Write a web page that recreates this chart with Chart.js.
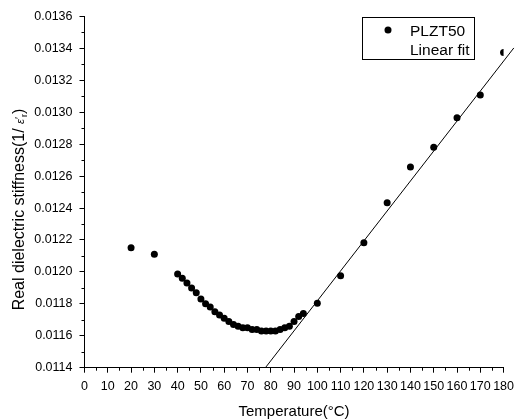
<!DOCTYPE html>
<html><head><meta charset="utf-8">
<script src="https://cdn.jsdelivr.net/npm/chart.js@4.4.1/dist/chart.umd.min.js"></script>
<style>html,body{margin:0;padding:0;background:#fff;}#wrap{width:520px;height:419px;}</style>
</head><body><div id="wrap"><canvas id="c" width="520" height="419"></canvas></div>
<script>
// ---- data ----
const temperatures = [20, 30, 40, 42, 44, 46, 48, 50, 52, 54, 56, 58, 60, 62, 64, 66, 68, 70, 72, 74, 76, 78, 80, 82, 84, 86, 88, 90, 92, 94, 100, 110, 120, 130, 140, 150, 160, 170, 180];
const stiffness = [0.012152, 0.012111, 0.011987, 0.01196, 0.01193, 0.01190, 0.01187, 0.01183, 0.01180, 0.01178, 0.01175, 0.01173, 0.01171, 0.01169, 0.01167, 0.01166, 0.01165, 0.01165, 0.01164, 0.01164, 0.01163, 0.01163, 0.01163, 0.01163, 0.01164, 0.01165, 0.01166, 0.01169, 0.01172, 0.01174, 0.011804, 0.011976, 0.012183, 0.012434, 0.012657, 0.012781, 0.012965, 0.013109, 0.013374];
const fitTemperatures = [77.7, 184.4];
const fitStiffness = [0.0114, 0.013403];
const seriesNames = ['PLZT50', 'Linear fit'];
const xTitle = 'Temperature(\u00B0C)';
const yTitleParts = ['Real dielectric stiffness(1/ ', '\u03B5', '\u2032', 'r', ')'];
const xMinorTicks = [5, 15, 25, 35, 45, 55, 65, 75, 85, 95, 105, 115, 125, 135, 145, 155, 165, 175];
const yMinorTicks = [0.0115, 0.0117, 0.0119, 0.0121, 0.0123, 0.0125, 0.0127, 0.0129, 0.0131, 0.0133, 0.0135];

const FONT = "'Liberation Sans', Arial, sans-serif";
Chart.defaults.font.family = FONT;
Chart.defaults.color = '#000';

const extras = {
  id: 'extras',
  afterDraw(chart) {
    const {ctx, scales: {x, y}, chartArea: a} = chart;
    ctx.save();
    ctx.strokeStyle = '#000';
    ctx.lineWidth = 1;
    ctx.beginPath();
    for (const v of xMinorTicks) {
      const px = Math.round(x.getPixelForValue(v)) + 0.5;
      ctx.moveTo(px, a.bottom); ctx.lineTo(px, a.bottom + 3);
    }
    for (const v of yMinorTicks) {
      const py = Math.round(y.getPixelForValue(v)) + 0.5;
      ctx.moveTo(a.left, py); ctx.lineTo(a.left - 3, py);
    }
    ctx.stroke();

    // legend
    ctx.fillStyle = '#fff';
    ctx.fillRect(362, 17, 112, 42);
    ctx.strokeRect(362.5, 17.5, 112, 42);
    ctx.fillStyle = '#000';
    ctx.beginPath(); ctx.arc(388, 30, 3.5, 0, Math.PI * 2); ctx.fill();
    ctx.font = '15.5px ' + FONT;
    ctx.textBaseline = 'alphabetic';
    ctx.textAlign = 'left';
    ctx.fillText(chart.data.datasets[0].label, 410, 35.5);
    ctx.fillText(chart.data.datasets[1].label, 410, 54.5);

    // x title
    ctx.font = '15px ' + FONT;
    ctx.textAlign = 'center';
    ctx.fillText(xTitle, (a.left + a.right) / 2, 416);

    // y title (rotated)
    const fonts = ['16px ' + FONT, 'italic 11px ' + FONT, '11px ' + FONT, '9px ' + FONT, '16px ' + FONT];
    const shifts = [0, 0, -1, 3, 0];
    let total = 0;
    const widths = yTitleParts.map((t, i) => { ctx.font = fonts[i]; const w = ctx.measureText(t).width; total += w; return w; });
    ctx.translate(24, 209.5);
    ctx.rotate(-Math.PI / 2);
    ctx.textAlign = 'left';
    let cx = -total / 2;
    yTitleParts.forEach((t, i) => { ctx.font = fonts[i]; ctx.fillText(t, cx, shifts[i]); cx += widths[i]; });
    ctx.restore();
  }
};

new Chart(document.getElementById('c'), {
  type: 'scatter',
  data: {
    datasets: [
      {
        label: seriesNames[0],
        data: temperatures.map((t, i) => ({x: t, y: stiffness[i]})),
        pointRadius: 3.5, pointHoverRadius: 3.5,
        backgroundColor: '#000', borderColor: '#000', borderWidth: 0,
        showLine: false
      },
      {
        label: seriesNames[1],
        data: fitTemperatures.map((t, i) => ({x: t, y: fitStiffness[i]})),
        showLine: true, pointRadius: 0, borderColor: '#000', borderWidth: 1,
        clip: false
      }
    ]
  },
  options: {
    responsive: false,
    animation: false,
    events: [],
    layout: {padding: {left: 0, right: 11, top: 16.5, bottom: 0}},
    plugins: {legend: {display: false}, tooltip: {enabled: false}},
    scales: {
      x: {
        type: 'linear', min: 0, max: 180,
        border: {display: true, color: '#000', width: 1},
        grid: {drawOnChartArea: false, drawTicks: true, tickLength: 5, tickColor: '#000'},
        ticks: {stepSize: 10, autoSkip: false, maxRotation: 0, padding: 6, font: {size: 12.5}, color: '#000'},
        afterFit(s) { s.height = 51.3; }
      },
      y: {
        type: 'linear', min: 0.0114, max: 0.0136,
        border: {display: true, color: '#000', width: 1},
        grid: {drawOnChartArea: false, drawTicks: true, tickLength: 5, tickColor: '#000'},
        ticks: {stepSize: 0.0002, autoSkip: false, padding: 7, font: {size: 12.5}, color: '#000',
          callback: v => Number(v).toFixed(4)},
        afterFit(s) { s.width = 84.5; }
      }
    }
  },
  plugins: [extras]
});
</script></body></html>
